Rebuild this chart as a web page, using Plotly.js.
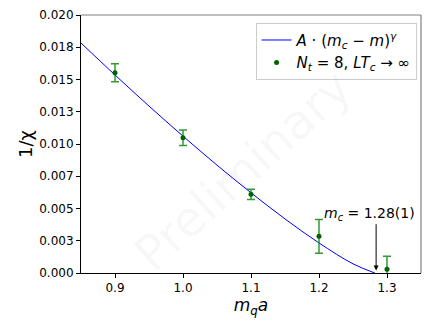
<!DOCTYPE html>
<html>
<head>
<meta charset="utf-8">
<script src="https://cdn.plot.ly/plotly-3.0.1.min.js"></script>
<style>html,body{margin:0;padding:0;background:#fff;}#chart{width:432px;height:324px;}</style>
</head>
<body>
<div id="chart"></div>
<script>
// Data points (N_t = 8, LT_c -> infinity)
const massValues = [0.9, 1.0, 1.1, 1.2, 1.3];
const invChi = [0.01553, 0.01049, 0.0061, 0.00284, 0.0003];
const invChiErr = [0.0007, 0.0006, 0.0004, 0.0013, 0.0010];

// Fit curve A*(m_c - m)^gamma at sample masses
const fitMass = [0.85, 0.90, 0.95, 1.00, 1.05, 1.10, 1.15, 1.20, 1.25, 1.282];
const fitValues = [0.01783, 0.01535, 0.01294, 0.01061, 0.00836, 0.00622, 0.00419, 0.00233, 0.00071, 0.0];

const mcValue = 1.284;
const mcLabel = '<i>m</i><sub><i>c</i></sub> = 1.28(1)';

const yTickVals = [0, 0.0025, 0.005, 0.0075, 0.01, 0.0125, 0.015, 0.0175, 0.02];
const yTickText = ['0.000', '0.003', '0.005', '0.007', '0.010', '0.013', '0.015', '0.018', '0.020'];
const xTickVals = [0.9, 1.0, 1.1, 1.2, 1.3];

const font = 'DejaVu Sans, sans-serif';

const traces = [
  {
    x: fitMass, y: fitValues, type: 'scatter', mode: 'lines',
    line: {color: '#0000ff', width: 1, shape: 'spline'},
    name: '<i>A</i> · (<i>m</i><sub><i>c</i></sub> − <i>m</i>)<sup><i>γ</i></sup>',
    cliponaxis: true
  },
  {
    x: massValues, y: invChi, type: 'scatter', mode: 'markers',
    marker: {color: '#006400', size: 5},
    error_y: {type: 'data', array: invChiErr, visible: true, color: 'rgba(0,128,0,0.8)', thickness: 1.5, width: 4},
    name: '<i>N</i><sub><i>t</i></sub> = 8, <i>LT</i><sub><i>c</i></sub> → ∞',
    cliponaxis: true
  }
];

const layout = {
  width: 432, height: 324,
  margin: {l: 81, r: 11, t: 15, b: 51},
  paper_bgcolor: '#fff', plot_bgcolor: '#fff',
  font: {family: font, size: 12, color: '#000'},
  showlegend: true,
  legend: {
    x: 0.987, y: 0.97, xanchor: 'right', yanchor: 'top',
    bgcolor: '#fff', bordercolor: '#cccccc', borderwidth: 1,
    font: {family: font, size: 15, color: '#000'},
    tracegroupgap: 0
  },
  xaxis: {
    range: [0.85, 1.35], tickvals: xTickVals, tickformat: '.1f',
    showgrid: false, zeroline: false,
    showline: true, linecolor: '#000', linewidth: 1,
    ticks: 'outside', ticklen: 4, tickcolor: '#000', tickwidth: 1,
    tickfont: {family: font, size: 12, color: '#000'},
    title: {text: '<i>m</i><sub><i>q</i></sub><i>a</i>', font: {family: font, size: 17, color: '#000'}, standoff: 0}
  },
  yaxis: {
    range: [0, 0.02], tickvals: yTickVals, ticktext: yTickText,
    showgrid: false, zeroline: false,
    showline: true, linecolor: '#000', linewidth: 1,
    ticks: 'outside', ticklen: 4, tickcolor: '#000', tickwidth: 1,
    tickfont: {family: font, size: 12, color: '#000'},
    title: {text: '1/χ', font: {family: font, size: 18, color: '#000'}, standoff: 1}
  },
  shapes: [
    {type: 'line', xref: 'paper', yref: 'paper', x0: 0, x1: 1, y0: 1, y1: 1, line: {color: '#808080', width: 1.2}, layer: 'above'},
    {type: 'line', xref: 'paper', yref: 'paper', x0: 1, x1: 1, y0: 0, y1: 1, line: {color: '#808080', width: 1.2}, layer: 'above'}
  ],
  annotations: [
    {
      text: 'Preliminary', xref: 'paper', yref: 'paper', x: 0.476, y: 0.399,
      showarrow: false, textangle: -42,
      font: {family: font, size: 48, color: 'rgba(0,0,0,0.04)'}
    },
    {
      x: mcValue, y: 0.0002, xref: 'x', yref: 'y',
      ax: mcValue, ay: 0.0039, axref: 'x', ayref: 'y',
      text: '', showarrow: true, arrowhead: 2, arrowsize: 1, arrowwidth: 1, arrowcolor: '#000'
    },
    {
      x: 1.274, y: 0.0046, xref: 'x', yref: 'y', text: mcLabel, showarrow: false,
      font: {family: font, size: 14, color: '#000'}
    }
  ]
};

Plotly.newPlot('chart', traces, layout, {displayModeBar: false, staticPlot: true});
</script>
</body>
</html>
